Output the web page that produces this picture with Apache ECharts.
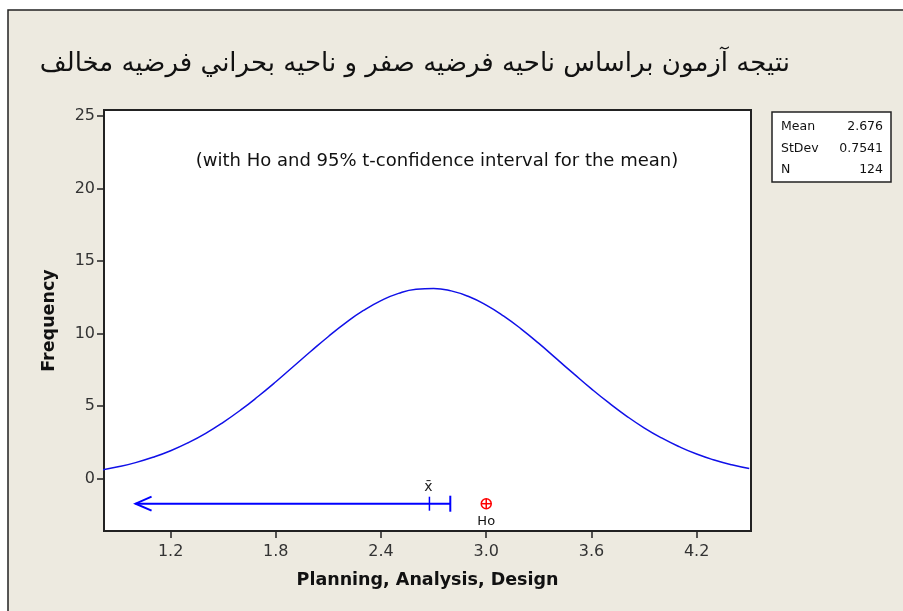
<!DOCTYPE html>
<html>
<head>
<meta charset="utf-8">
<script src="https://cdn.jsdelivr.net/npm/echarts@6/dist/echarts.min.js"></script>
<style>
  html, body { margin: 0; padding: 0; background: #fff; }
  #chart { width: 903px; height: 611px; }
</style>
</head>
<body>
<div id="chart"></div>
<script>
// fitted normal curve
const curveX = [0.8, 0.9, 1.0, 1.1, 1.2, 1.3, 1.4, 1.5, 1.6, 1.7, 1.8, 1.9, 2.0, 2.1, 2.2, 2.3, 2.4, 2.5, 2.6, 2.7,
  2.8, 2.9, 3.0, 3.1, 3.2, 3.3, 3.4, 3.5, 3.6, 3.7, 3.8, 3.9, 4.0, 4.1, 4.2, 4.3, 4.4, 4.5];
const curveY = [0.59, 0.82, 1.11, 1.48, 1.93, 2.48, 3.13, 3.89, 4.74, 5.68, 6.68, 7.73, 8.78, 9.8, 10.75, 11.59, 12.27, 12.77, 13.05, 13.11,
  12.94, 12.55, 11.96, 11.2, 10.31, 9.32, 8.27, 7.22, 6.19, 5.22, 4.32, 3.51, 2.81, 2.21, 1.7, 1.29, 0.96, 0.7];

// one-sided 95% t interval (arrow points to -inf), mean and Ho
const ciInterval = [1.0, 2.795]; // arrow tip, upper bound
const xbar = 2.676;
const ciLevel = -1.72;
const hoValue = 3.0;

const xTicks = [1.2, 1.8, 2.4, 3.0, 3.6, 4.2];
const yTicks = [0, 5, 10, 15, 20, 25];

const statNames = ["Mean", "StDev", "N"];
const statValues = ["2.676", "0.7541", "124"];

const titleText = "نتيجه آزمون براساس ناحيه فرضيه صفر و ناحيه بحراني فرضيه مخالف";
const subText = "(with Ho and 95% t-confidence interval for the mean)";

const blue = "#0000ff";
const red = "#ff0000";
const panelBg = "#edeae0";

const chart = echarts.init(document.getElementById("chart"));

const statsChildren = [
  {
    type: "rect",
    shape: { x: 0, y: 0, width: 119, height: 70 },
    style: { fill: "#fff", stroke: "#222", lineWidth: 1.5 },
  },
];
statNames.forEach((name, i) => {
  statsChildren.push({
    type: "text",
    x: 9,
    y: 15 + i * 21.5,
    style: { text: name, font: "12.5px 'DejaVu Sans'", fill: "#111", verticalAlign: "middle" },
  });
  statsChildren.push({
    type: "text",
    x: 111,
    y: 15 + i * 21.5,
    style: { text: statValues[i], font: "12.5px 'DejaVu Sans'", fill: "#111", align: "right", verticalAlign: "middle" },
  });
});

chart.setOption({
  backgroundColor: "#fff",
  animation: false,
  title: {
    text: titleText,
    right: 108,
    top: 46,
    textStyle: {
      fontFamily: "DejaVu Sans",
      fontSize: 26,
      fontWeight: "normal",
      color: "#111",
    },
  },
  graphic: [
    {
      type: "rect",
      z: -10,
      shape: { x: 8, y: 10, width: 900, height: 610 },
      style: { fill: panelBg, stroke: "#222", lineWidth: 1.5 },
    },
    {
      type: "text",
      x: 437,
      y: 161,
      z: 10,
      style: {
        text: subText,
        font: "18px 'DejaVu Sans'",
        fill: "#111",
        align: "center",
        verticalAlign: "middle",
      },
    },
    {
      type: "group",
      x: 772,
      y: 112,
      children: statsChildren,
    },
  ],
  grid: {
    left: 104,
    top: 110,
    width: 647,
    height: 421,
    show: true,
    backgroundColor: "#fff",
    borderColor: "#222",
    borderWidth: 2,
  },
  xAxis: {
    type: "value",
    min: 0.82,
    max: 4.51,
    name: "Planning, Analysis, Design",
    nameLocation: "middle",
    nameGap: 40,
    nameTextStyle: { fontFamily: "DejaVu Sans", fontSize: 17.5, fontWeight: "bold", color: "#111" },
    axisLine: { show: false, onZero: false },
    splitLine: { show: false },
    axisTick: { show: true, length: 7, lineStyle: { color: "#222", width: 1.5 }, customValues: xTicks },
    axisLabel: {
      customValues: xTicks,
      formatter: (v) => v.toFixed(1),
      fontFamily: "DejaVu Sans",
      fontSize: 16,
      color: "#333",
      margin: 13,
    },
  },
  yAxis: {
    type: "value",
    min: -3.6,
    max: 25.4,
    name: "Frequency",
    nameLocation: "middle",
    nameRotate: 90,
    nameGap: 46,
    nameTextStyle: { fontFamily: "DejaVu Sans", fontSize: 17.5, fontWeight: "bold", color: "#111" },
    axisLine: { show: false, onZero: false },
    splitLine: { show: false },
    axisTick: { show: true, length: 7, lineStyle: { color: "#222", width: 1.5 }, customValues: yTicks },
    axisLabel: {
      customValues: yTicks,
      fontFamily: "DejaVu Sans",
      fontSize: 16,
      color: "#333",
      margin: 9,
    },
  },
  series: [
    {
      type: "line",
      data: curveX.map((x, i) => [x, curveY[i]]),
      smooth: true,
      symbol: "none",
      lineStyle: { color: "#1010e8", width: 1.5 },
      clip: true,
    },
    {
      type: "custom",
      data: [[ciInterval[0], ciInterval[1], xbar, ciLevel]],
      encode: { x: [0, 1, 2], y: 3 },
      renderItem: (params, api) => {
        const lo = api.coord([api.value(0), api.value(3)]);
        const hi = api.coord([api.value(1), api.value(3)]);
        const m = api.coord([api.value(2), api.value(3)]);
        const st = { stroke: blue, lineWidth: 2, fill: null };
        return {
          type: "group",
          children: [
            { type: "line", shape: { x1: lo[0], y1: lo[1], x2: hi[0], y2: hi[1] }, style: st },
            {
              type: "polyline",
              shape: { points: [[lo[0] + 16, lo[1] - 7], [lo[0], lo[1]], [lo[0] + 16, lo[1] + 7]] },
              style: st,
            },
            { type: "line", shape: { x1: m[0], y1: m[1] - 7, x2: m[0], y2: m[1] + 7 }, style: { stroke: blue, lineWidth: 1.5 } },
            { type: "line", shape: { x1: hi[0], y1: hi[1] - 8, x2: hi[0], y2: hi[1] + 8 }, style: { stroke: blue, lineWidth: 2 } },
            {
              type: "text",
              x: m[0] - 1,
              y: m[1] - 16,
              style: { text: "x\u0304", font: "14px 'DejaVu Sans'", fill: "#222", align: "center", verticalAlign: "middle" },
            },
          ],
        };
      },
    },
    {
      type: "custom",
      data: [[hoValue, ciLevel]],
      encode: { x: 0, y: 1 },
      renderItem: (params, api) => {
        const p = api.coord([api.value(0), api.value(1)]);
        const st = { stroke: red, lineWidth: 1.5, fill: null };
        return {
          type: "group",
          children: [
            { type: "circle", shape: { cx: p[0], cy: p[1], r: 5 }, style: st },
            { type: "line", shape: { x1: p[0] - 5, y1: p[1], x2: p[0] + 5, y2: p[1] }, style: st },
            { type: "line", shape: { x1: p[0], y1: p[1] - 5, x2: p[0], y2: p[1] + 5 }, style: st },
            {
              type: "text",
              x: p[0],
              y: p[1] + 18,
              style: { text: "Ho", font: "13px 'DejaVu Sans'", fill: "#111", align: "center", verticalAlign: "middle" },
            },
          ],
        };
      },
    },
  ],
});
</script>
</body>
</html>
